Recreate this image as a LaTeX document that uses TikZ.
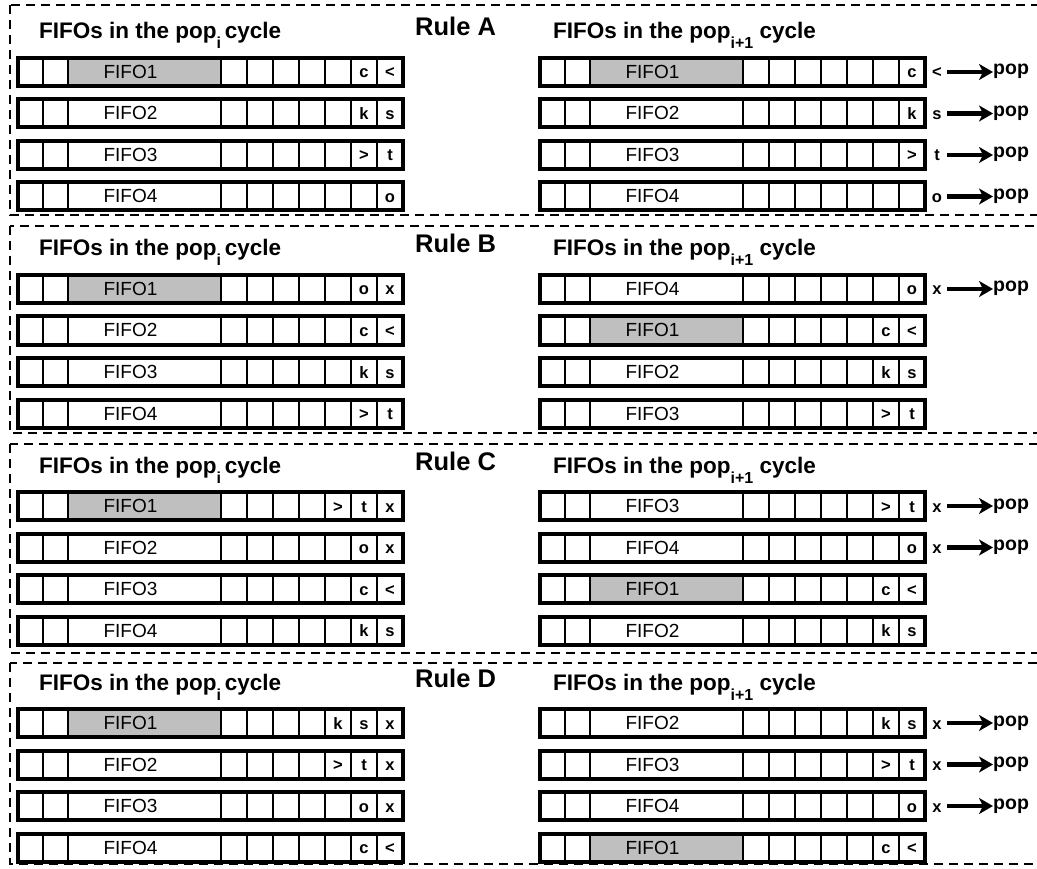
\documentclass[tikz,border=0pt]{standalone}
\usepackage{fontspec}
\setmainfont{Liberation Sans}
\usetikzlibrary{arrows.meta, positioning, calc}

\newcommand{\popsub}[1]{\raisebox{-10pt}{\fontsize{16}{16}\selectfont #1}}
% one FIFO row: name, left x, centre y, label, fill, last three cells
\newcommand{\fiforow}[8]{%
  \node[cell, minimum width=25pt] (#1-c1) at ({#2+12.5}, #3) {};
  \node[cell, minimum width=25pt] (#1-c2) at ({#2+37.5}, #3) {};
  \node[bigcell, fill=#5] (#1-big) at ({#2+126.5}, #3) {};
  \node[fifoname] (#1-name) at ([xshift=-14pt]#1-big.center) {#4};
  \foreach \k in {4,...,7}
    \node[cell] (#1-c\k) at ({#2+216+26*(\k-4)}, #3) {};
  \node[cell] (#1-c8) at ({#2+320}, #3) {#6};
  \node[cell] (#1-c9) at ({#2+346}, #3) {#7};
  \node[cell] (#1-c10) at ({#2+372}, #3) {#8};
  \draw[rowframe] (#1-c1.north west) rectangle (#1-c10.south east);
}
% element leaving a FIFO
\newcommand{\popout}[2]{%
  \node[outtxt] (#1-out) at ([xshift=12pt]#1-c10.east) {#2};
  \node[poptxt, anchor=west] (#1-pop) at ([xshift=68pt]#1-c10.east) {pop};
  \draw[poparr] (#1-out.east) -- (#1-out.east -| #1-pop.west);
}

\begin{document}
\begin{tikzpicture}[
    x=1pt, y=-1pt,
    cell/.style={draw, line width=2.2pt, minimum width=26pt, minimum height=28pt, inner sep=0pt, outer sep=0pt,
        text height=12pt, text depth=0pt, font=\fontsize{16.5}{16.5}\selectfont\bfseries},
    bigcell/.style={draw, line width=2.2pt, minimum width=153pt, minimum height=28pt, inner sep=0pt, outer sep=0pt},
    fifoname/.style={inner sep=0pt, text height=13pt, text depth=0pt, font=\fontsize{19}{20}\selectfont},
    rowframe/.style={draw, line width=4pt},
    outtxt/.style={inner sep=0pt, minimum width=20pt, text height=12pt, text depth=0pt, font=\fontsize{16.5}{16.5}\selectfont\bfseries},
    poptxt/.style={inner sep=0pt, text height=10pt, text depth=4pt, font=\fontsize{19.5}{20}\selectfont\bfseries},
    poparr/.style={-{Stealth[length=14pt, width=16pt, inset=4pt]}, line width=4.5pt},
    headtxt/.style={inner sep=0pt, font=\fontsize{22.5}{26}\selectfont\bfseries},
    rulelabel/.style={inner sep=0pt, font=\fontsize{25.5}{30}\selectfont\bfseries},
    panel/.style={draw, line width=1.8pt, dash pattern=on 9pt off 6pt},
]
\useasboundingbox (0,0) rectangle (1037,869);
\clip (0,0) rectangle (1037,869);

% Panels
\draw[panel] (10,5) rectangle (1050,215);
\draw[panel] (10,226) rectangle (1050,433);
\draw[panel] (10,444) rectangle (1050,653);
\draw[panel] (10,663) rectangle (1050,864);

% Rule A
\node[headtxt, anchor=base west] (tA-i) at (39,39) {FIFOs in the pop\popsub{i}\,cycle};
\node[rulelabel, anchor=base west] (ruleA) at (415,36) {Rule A};
\node[headtxt, anchor=base west] (tA-j) at (553,39) {FIFOs in the pop\popsub{i+1} cycle};
\fiforow{Al1}{18}{72}{FIFO1}{black!25}{}{c}{<}
\fiforow{Al2}{18}{113.5}{FIFO2}{white}{}{k}{s}
\fiforow{Al3}{18}{155}{FIFO3}{white}{}{>}{t}
\fiforow{Al4}{18}{196.5}{FIFO4}{white}{}{}{o}
\fiforow{Ar1}{540}{72}{FIFO1}{black!25}{}{}{c}
\fiforow{Ar2}{540}{113.5}{FIFO2}{white}{}{}{k}
\fiforow{Ar3}{540}{155}{FIFO3}{white}{}{}{>}
\fiforow{Ar4}{540}{196.5}{FIFO4}{white}{}{}{}
\popout{Ar1}{<}
\popout{Ar2}{s}
\popout{Ar3}{t}
\popout{Ar4}{o}

% Rule B
\node[headtxt, anchor=base west] (tB-i) at (39,256) {FIFOs in the pop\popsub{i}\,cycle};
\node[rulelabel, anchor=base west] (ruleB) at (415,253) {Rule B};
\node[headtxt, anchor=base west] (tB-j) at (553,256) {FIFOs in the pop\popsub{i+1} cycle};
\fiforow{Bl1}{18}{289}{FIFO1}{black!25}{}{o}{x}
\fiforow{Bl2}{18}{330.5}{FIFO2}{white}{}{c}{<}
\fiforow{Bl3}{18}{372}{FIFO3}{white}{}{k}{s}
\fiforow{Bl4}{18}{413.5}{FIFO4}{white}{}{>}{t}
\fiforow{Br1}{540}{289}{FIFO4}{white}{}{}{o}
\fiforow{Br2}{540}{330.5}{FIFO1}{black!25}{}{c}{<}
\fiforow{Br3}{540}{372}{FIFO2}{white}{}{k}{s}
\fiforow{Br4}{540}{413.5}{FIFO3}{white}{}{>}{t}
\popout{Br1}{x}

% Rule C
\node[headtxt, anchor=base west] (tC-i) at (39,473) {FIFOs in the pop\popsub{i}\,cycle};
\node[rulelabel, anchor=base west] (ruleC) at (415,470) {Rule C};
\node[headtxt, anchor=base west] (tC-j) at (553,473) {FIFOs in the pop\popsub{i+1} cycle};
\fiforow{Cl1}{18}{506}{FIFO1}{black!25}{>}{t}{x}
\fiforow{Cl2}{18}{547.5}{FIFO2}{white}{}{o}{x}
\fiforow{Cl3}{18}{589}{FIFO3}{white}{}{c}{<}
\fiforow{Cl4}{18}{630.5}{FIFO4}{white}{}{k}{s}
\fiforow{Cr1}{540}{506}{FIFO3}{white}{}{>}{t}
\fiforow{Cr2}{540}{547.5}{FIFO4}{white}{}{}{o}
\fiforow{Cr3}{540}{589}{FIFO1}{black!25}{}{c}{<}
\fiforow{Cr4}{540}{630.5}{FIFO2}{white}{}{k}{s}
\popout{Cr1}{x}
\popout{Cr2}{x}

% Rule D
\node[headtxt, anchor=base west] (tD-i) at (39,690) {FIFOs in the pop\popsub{i}\,cycle};
\node[rulelabel, anchor=base west] (ruleD) at (415,687) {Rule D};
\node[headtxt, anchor=base west] (tD-j) at (553,690) {FIFOs in the pop\popsub{i+1} cycle};
\fiforow{Dl1}{18}{723}{FIFO1}{black!25}{k}{s}{x}
\fiforow{Dl2}{18}{764.5}{FIFO2}{white}{>}{t}{x}
\fiforow{Dl3}{18}{806}{FIFO3}{white}{}{o}{x}
\fiforow{Dl4}{18}{847.5}{FIFO4}{white}{}{c}{<}
\fiforow{Dr1}{540}{723}{FIFO2}{white}{}{k}{s}
\fiforow{Dr2}{540}{764.5}{FIFO3}{white}{}{>}{t}
\fiforow{Dr3}{540}{806}{FIFO4}{white}{}{}{o}
\fiforow{Dr4}{540}{847.5}{FIFO1}{black!25}{}{c}{<}
\popout{Dr1}{x}
\popout{Dr2}{x}
\popout{Dr3}{x}

\end{tikzpicture}
\end{document}
